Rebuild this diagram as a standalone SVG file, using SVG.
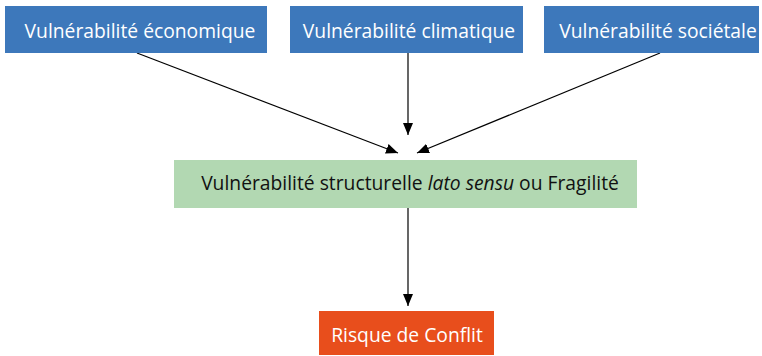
<svg xmlns="http://www.w3.org/2000/svg" width="762" height="356" viewBox="0 0 762 356">
<style>
text{font-family:"Open Sans","Liberation Sans",sans-serif;font-size:19.3px;text-anchor:middle;}
.blue{fill:#3d78bb;}
.wt{fill:#ffffff;}
.green{fill:#b2d8b2;}
.red{fill:#e84e1c;}
.conn{stroke:#000;stroke-width:1.2;fill:none;marker-end:url(#ah);}
</style>
<defs>
<marker id="ah" viewBox="0 0 12 10" refX="12" refY="5" markerWidth="12" markerHeight="10" markerUnits="userSpaceOnUse" orient="auto">
<path d="M0,0 L12,5 L0,10 z" fill="#000"/>
</marker>
</defs>
<rect width="762" height="356" fill="#fff"/>
<g id="connectors">
<line class="conn" x1="137" y1="53" x2="398" y2="153"/>
<line class="conn" x1="408" y1="53" x2="408" y2="135"/>
<line class="conn" x1="660" y1="53" x2="417" y2="153"/>
<line class="conn" x1="408" y1="208" x2="408" y2="306"/>
</g>
<g id="n1">
<rect class="blue" x="5" y="6" width="262" height="47"/>
<text class="wt" x="140" y="38">Vulnérabilité économique</text>
</g>
<g id="n2">
<rect class="blue" x="290" y="6" width="233" height="47"/>
<text class="wt" x="409" y="38">Vulnérabilité climatique</text>
</g>
<g id="n3">
<rect class="blue" x="544" y="6" width="215" height="47"/>
<text class="wt" x="658" y="38">Vulnérabilité sociétale</text>
</g>
<g id="n4">
<rect class="green" x="174" y="160" width="463" height="48"/>
<text x="410" y="190" fill="#111">Vulnérabilité structurelle <tspan font-style="italic">lato sensu</tspan> ou Fragilité</text>
</g>
<g id="n5">
<rect class="red" x="319" y="311" width="175" height="44"/>
<text class="wt" x="407" y="342">Risque de Conflit</text>
</g>
</svg>
